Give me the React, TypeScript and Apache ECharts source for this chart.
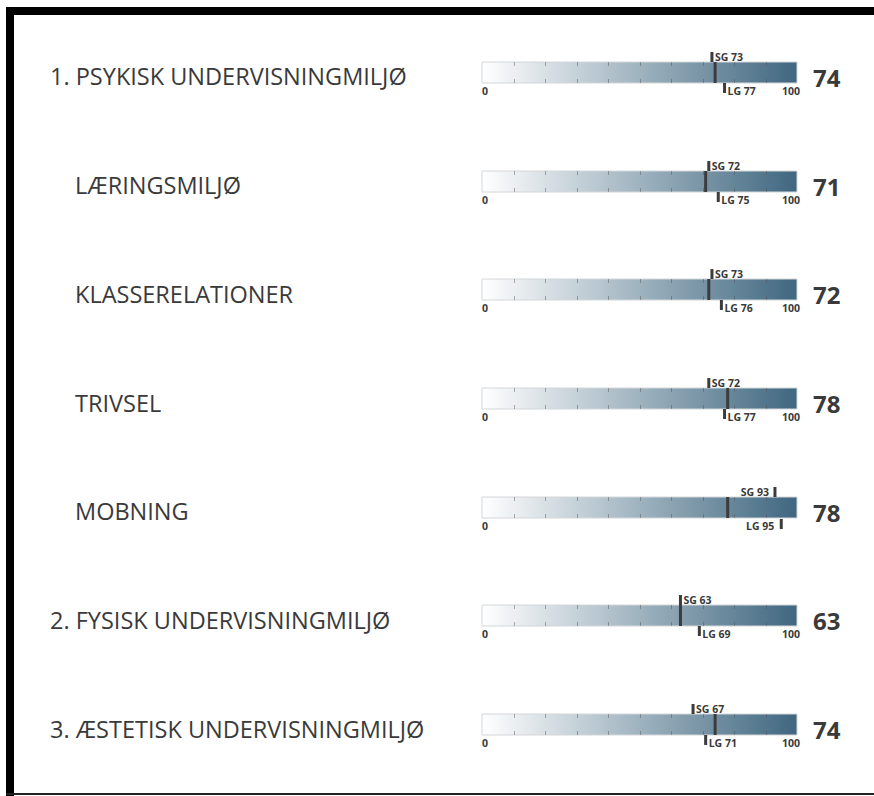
import React, { useEffect, useRef } from "react";
import * as echarts from "echarts";

const categories = [
  "1. PSYKISK UNDERVISNINGMILJØ",
  "LÆRINGSMILJØ",
  "KLASSERELATIONER",
  "TRIVSEL",
  "MOBNING",
  "2. FYSISK UNDERVISNINGMILJØ",
  "3. ÆSTETISK UNDERVISNINGMILJØ",
];
const isSub = [false, true, true, true, true, false, false];
const schoolValues = [74, 71, 72, 78, 78, 63, 74];
const sgValues = [73, 72, 73, 72, 93, 63, 67];
const lgValues = [77, 75, 76, 77, 95, 69, 71];
const scaleTicks = [0, 10, 20, 30, 40, 50, 60, 70, 80, 90, 100];

const TEXT = "#3a3a3a";
const MARK = "#3c3c3c";
const SMALL = "bold 10.5px 'Open Sans'";

export default function App() {
  const ref = useRef<HTMLDivElement>(null);
  useEffect(() => {
    if (!ref.current) return;
    const chart = echarts.init(ref.current, undefined, { renderer: "svg" });
    const data = categories.map((_, i) => [schoolValues[i], sgValues[i], lgValues[i], i]);
    const grad = new echarts.graphic.LinearGradient(0, 0, 1, 0, [
      { offset: 0, color: "#ffffff" },
      { offset: 1, color: "#3f6780" },
    ]);
    const renderItem = (params: any, api: any) => {
      const i = api.value(3);
      const v = api.value(0);
      const sg = api.value(1);
      const lg = api.value(2);
      const [x0, yc] = api.coord([0, i]);
      const x100 = api.coord([100, i])[0];
      const h = 21;
      const yTop = Math.round(yc - h / 2);
      const yBot = yTop + h;
      const children: any[] = [];
      children.push({
        type: "rect",
        shape: { x: x0, y: yTop, width: x100 - x0, height: h },
        style: { fill: grad, stroke: "#d4d6d8", lineWidth: 1 },
      });
      scaleTicks.slice(1, -1).forEach((t) => {
        const tx = Math.round(api.coord([t, i])[0]) + 0.5;
        children.push({
          type: "line",
          shape: { x1: tx, y1: yTop, x2: tx, y2: yTop + 4 },
          style: { stroke: "rgba(80,80,80,0.45)", lineWidth: 1 },
        });
        children.push({
          type: "line",
          shape: { x1: tx, y1: yBot - 4, x2: tx, y2: yBot },
          style: { stroke: "rgba(80,80,80,0.45)", lineWidth: 1 },
        });
      });
      const vx = api.coord([v, i])[0];
      children.push({
        type: "line",
        shape: { x1: vx, y1: yTop, x2: vx, y2: yBot },
        style: { stroke: MARK, lineWidth: 3 },
      });
      const sx = api.coord([sg, i])[0];
      children.push({
        type: "line",
        shape: { x1: sx, y1: yTop - 10, x2: sx, y2: yTop },
        style: { stroke: MARK, lineWidth: 3 },
      });
      const sgRight = sg > 85;
      children.push({
        type: "text",
        x: sgRight ? sx - 6 : sx + 3,
        y: yTop - 5,
        style: {
          text: "SG " + sg,
          fill: TEXT,
          font: SMALL,
          align: sgRight ? "right" : "left",
          verticalAlign: "middle",
        },
      });
      const lx = api.coord([lg, i])[0];
      const lgRight = lg > 85;
      const lgOff = lgRight ? 1 : 0;
      children.push({
        type: "line",
        shape: { x1: lx, y1: yBot + lgOff, x2: lx, y2: yBot + 10 + lgOff },
        style: { stroke: MARK, lineWidth: 3 },
      });
      children.push({
        type: "text",
        x: lgRight ? lx - 7 : lx + 3,
        y: yBot + 8,
        style: {
          text: "LG " + lg,
          fill: TEXT,
          font: SMALL,
          align: lgRight ? "right" : "left",
          verticalAlign: "middle",
        },
      });
      children.push({
        type: "text",
        x: x0,
        y: yBot + 8,
        style: {
          text: String(scaleTicks[0]),
          fill: TEXT,
          font: SMALL,
          align: "left",
          verticalAlign: "middle",
        },
      });
      if (!lgRight) {
        children.push({
          type: "text",
          x: x100 + 3,
          y: yBot + 8,
          style: {
            text: String(scaleTicks[scaleTicks.length - 1]),
            fill: TEXT,
            font: SMALL,
            align: "right",
            verticalAlign: "middle",
          },
        });
      }
      children.push({
        type: "text",
        x: x100 + 16,
        y: yc + 5,
        style: {
          text: String(v),
          fill: TEXT,
          font: "bold 24px 'Open Sans'",
          align: "left",
          verticalAlign: "middle",
        },
      });
      return { type: "group", children };
    };
    chart.setOption({
      animation: false,
      backgroundColor: "#ffffff",
      grid: { left: 482, width: 315, top: 18, height: 761 },
      xAxis: {
        type: "value",
        min: 0,
        max: 100,
        show: false,
      },
      yAxis: {
        type: "category",
        inverse: true,
        data: categories,
        axisLine: { show: false },
        axisTick: { show: false },
        axisLabel: {
          align: "left",
          margin: 432,
          formatter: (val: string, idx: number) =>
            isSub[idx] ? "{s|" + val + "}" : "{m|" + val + "}",
          rich: {
            m: { fontFamily: "Open Sans", fontSize: 23.5, color: TEXT, padding: [8, 0, 0, 0] },
            s: { fontFamily: "Open Sans", fontSize: 23.5, color: TEXT, padding: [8, 0, 0, 25] },
          },
        },
      },
      series: [
        {
          type: "custom",
          renderItem,
          data,
          encode: { x: 0, y: 3 },
          silent: true,
        },
      ],
      graphic: [
        { type: "rect", shape: { x: 6, y: 7, width: 868, height: 8 }, style: { fill: "#000" } },
        { type: "rect", shape: { x: 6, y: 7, width: 8, height: 789 }, style: { fill: "#000" } },
        { type: "rect", shape: { x: 6, y: 793, width: 868, height: 2 }, style: { fill: "#222" } },
      ],
    });
    return () => chart.dispose();
  }, []);
  return (
    <div
      ref={ref}
      style={{ position: "fixed", left: 0, top: 0, width: 874, height: 796 }}
    />
  );
}
